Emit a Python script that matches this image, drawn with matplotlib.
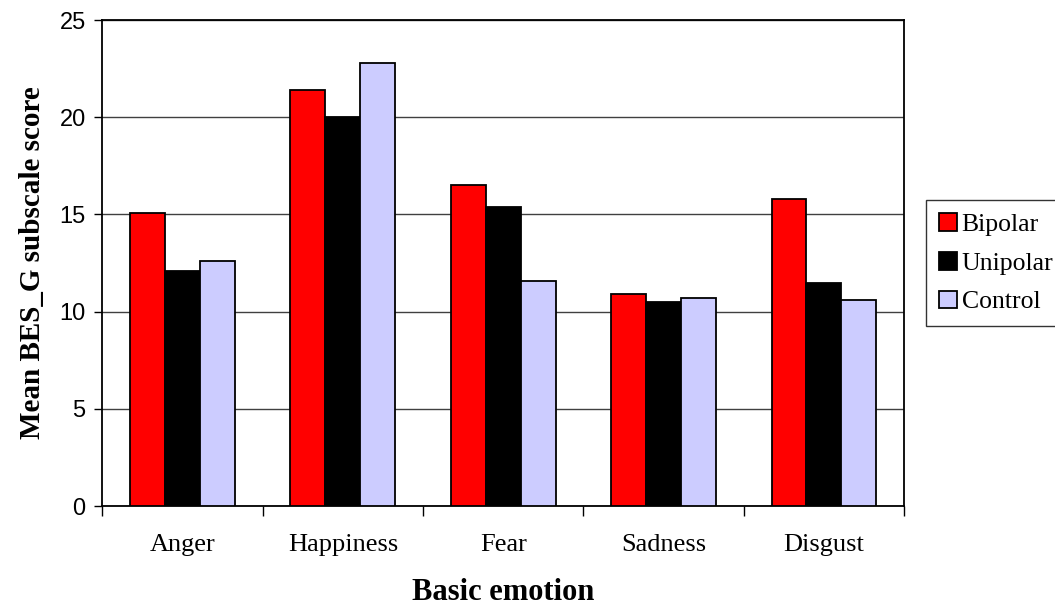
import numpy as np
import matplotlib
matplotlib.use('Agg')
import matplotlib.pyplot as plt
from matplotlib.ticker import FixedLocator

emotions = ['Anger', 'Happiness', 'Fear', 'Sadness', 'Disgust']
groups = ['Bipolar', 'Unipolar', 'Control']
bipolar = [15.1, 21.4, 16.5, 10.9, 15.8]
unipolar = [12.1, 20.0, 15.4, 10.5, 11.5]
control = [12.6, 22.8, 11.6, 10.7, 10.6]
colors = ['#FF0000', '#000000', '#CCCCFF']

fig = plt.figure(figsize=(10.55, 6.09), dpi=100)
ax = fig.add_axes([0.097, 0.169, 0.760, 0.798])

x = np.arange(len(emotions))
w = 0.218
for i, (vals, name) in enumerate(zip([bipolar, unipolar, control], groups)):
    ax.bar(x + (i - 1) * w, vals, w, color=colors[i], edgecolor='black',
           linewidth=1.3, label=name, zorder=3)

ax.set_xlim(-0.5, 4.5)
ax.set_ylim(0, 25)
ax.set_yticks([0, 5, 10, 15, 20, 25])
ax.yaxis.grid(True, color='#404040', linewidth=1, zorder=0)
ax.set_axisbelow(True)

ax.set_xticks(x)
ax.set_xticklabels(emotions, family='Liberation Serif', fontsize=19)
ax.xaxis.set_minor_locator(FixedLocator(np.arange(-0.5, 5, 1)))
ax.tick_params(axis='x', which='major', length=0, pad=20)
ax.tick_params(axis='x', which='minor', length=7, width=1, direction='out')
ax.tick_params(axis='y', length=6, width=1, direction='out', pad=6)
for lab in ax.get_yticklabels():
    lab.set_family('Liberation Sans')
    lab.set_fontsize(17)

for sp in ax.spines.values():
    sp.set_linewidth(1.3)
    sp.set_color('black')

ax.set_xlabel('Basic emotion', family='Liberation Serif', fontweight='bold',
              fontsize=22, labelpad=16)
ax.set_ylabel('Mean BES_G subscale score', family='Liberation Serif',
              fontweight='bold', fontsize=21, labelpad=10)

leg = ax.legend(loc='center left', bbox_to_anchor=(1.027, 0.5),
                prop={'family': 'Liberation Serif', 'size': 18.5},
                frameon=True, fancybox=False, edgecolor='black',
                handlelength=0.7, handleheight=0.7, handletextpad=0.2,
                borderpad=0.5, labelspacing=0.62, borderaxespad=0)
leg.get_frame().set_linewidth(1)
fig.canvas.draw()
# thin the side padding so the labels fit inside the figure like the original
leg._legend_box.sep = 0

fig.savefig('out.png', dpi=100)
